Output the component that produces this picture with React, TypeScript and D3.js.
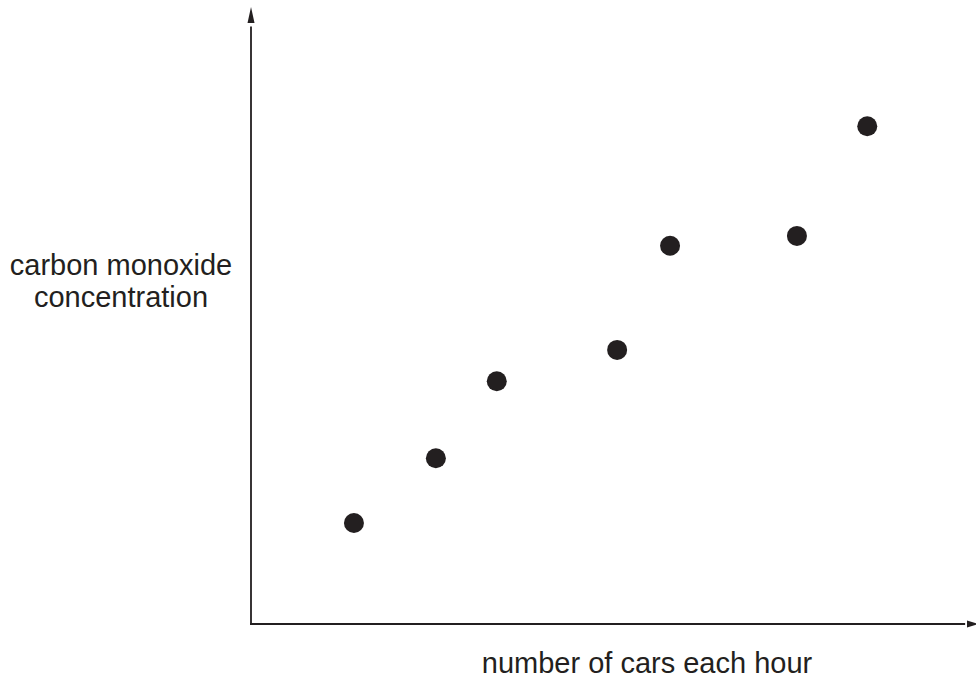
import React from "react";
import * as d3 from "d3";

const xValues = [14.2, 25.5, 33.9, 50.5, 57.8, 75.3, 85.0];
const yValues = [16.4, 26.9, 39.4, 44.5, 61.4, 63.0, 80.8];
const yLabelLines = ["carbon monoxide", "concentration"];
const xLabel = "number of cars each hour";

const W = 976;
const H = 680;
const ox = 251;
const oy = 624;
const ink = "#231f20";

export default function App() {
  const x = d3.scaleLinear().domain([0, 100]).range([ox, 976]);
  const y = d3.scaleLinear().domain([0, 100]).range([oy, 8]);
  const pts = xValues.map((v, i) => ({ x: v, y: yValues[i] }));
  return (
    <svg
      width={W}
      height={H}
      style={{ position: "absolute", left: 0, top: 0, background: "#fff" }}
      fontFamily="Liberation Sans, Arial, sans-serif"
    >
      {/* y axis */}
      <line x1={ox} y1={oy + 1} x2={ox} y2={y(97)} stroke={ink} strokeWidth={1.8} />
      <path d={`M${ox},${y(100) - 1} L${ox - 3.5},${y(100) + 15} L${ox + 3.5},${y(100) + 15} Z`} fill={ink} />
      {/* x axis */}
      <line x1={ox - 1} y1={oy} x2={x(98.5)} y2={oy} stroke={ink} strokeWidth={1.8} />
      <path d={`M${x(100) + 2},${oy} L${x(100) - 9},${oy - 3.5} L${x(100) - 9},${oy + 3.5} Z`} fill={ink} />
      {pts.map((p, i) => (
        <circle key={i} cx={x(p.x)} cy={y(p.y)} r={10} fill={ink} />
      ))}
      <text fontSize={29} fill={ink} textAnchor="middle">
        {yLabelLines.map((t, i) => (
          <tspan key={i} x={121} y={275 + i * 32}>
            {t}
          </tspan>
        ))}
      </text>
      <text x={647} y={673} fontSize={29} fill={ink} textAnchor="middle">
        {xLabel}
      </text>
    </svg>
  );
}
